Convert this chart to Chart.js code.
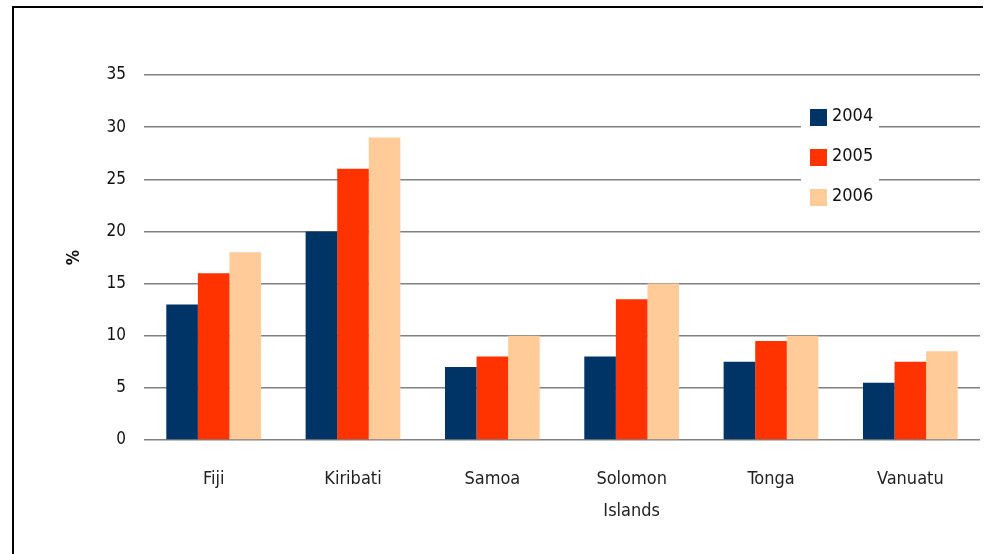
<!DOCTYPE html>
<html>
<head>
<meta charset="utf-8">
<script src="https://cdn.jsdelivr.net/npm/chart.js@4/dist/chart.umd.min.js"></script>
<style>
  html, body { margin: 0; padding: 0; background: #fff; }
  #wrap { width: 995px; height: 554px; position: relative; }
</style>
</head>
<body>
<div id="wrap"><canvas id="islandsChart"></canvas></div>
<script>
const countries = ["Fiji", "Kiribati", "Samoa", ["Solomon", "Islands"], "Tonga", "Vanuatu"];
const years = ["2004", "2005", "2006"];
const values2004 = [13, 20, 7, 8, 7.5, 5.5];
const values2005 = [16, 26, 8, 13.5, 9.5, 7.5];
const values2006 = [18, 29, 10, 15, 10, 8.5];
const yTicks = [0, 5, 10, 15, 20, 25, 30, 35];
const colors = ["#003366", "#ff3300", "#ffcc99"];

const FONT = "'Liberation Sans Narrow', 'Arial Narrow', 'DejaVu Sans Condensed', 'Liberation Sans', Arial, sans-serif";

// frame lines on the top and left edges
const framePlugin = {
  id: "frame",
  beforeDraw(chart) {
    const c = chart.ctx;
    c.save();
    c.strokeStyle = "#000";
    c.lineWidth = 2;
    c.beginPath();
    c.moveTo(983, 7);
    c.lineTo(13, 7);
    c.lineTo(13, 554);
    c.stroke();
    c.restore();
  }
};

// legend box sitting on top of the grid, upper right
const legendPlugin = {
  id: "boxLegend",
  afterDatasetsDraw(chart) {
    const c = chart.ctx;
    c.save();
    c.fillStyle = "#fff";
    c.fillRect(801, 95, 78, 120);
    chart.data.datasets.forEach((ds, i) => {
      const y = 117 + i * 40;
      c.fillStyle = ds.backgroundColor;
      c.fillRect(810, y - 8, 17, 17);
      c.fillStyle = "#111";
      c.font = "18px " + FONT;
      c.textBaseline = "middle";
      c.fillText(ds.label, 832, y - 1);
    });
    c.restore();
  }
};

new Chart(document.getElementById("islandsChart"), {
  type: "bar",
  data: {
    labels: countries,
    datasets: [
      { label: years[0], data: values2004, backgroundColor: colors[0] },
      { label: years[1], data: values2005, backgroundColor: colors[1] },
      { label: years[2], data: values2006, backgroundColor: colors[2] },
    ],
  },
  options: {
    responsive: true,
    maintainAspectRatio: false,
    animation: false,
    categoryPercentage: 0.68,
    barPercentage: 1,
    layout: { padding: { top: 75, right: 15, left: 14, bottom: 0 } },
    scales: {
      y: {
        min: 0,
        max: 35,
        afterBuildTicks(axis) {
          axis.ticks = yTicks.map((v) => ({ value: v }));
        },
        afterFit(axis) {
          axis.width = 130;
        },
        border: { display: false },
        grid: { color: "#808080", lineWidth: 1.5, drawTicks: false },
        ticks: {
          padding: 18,
          color: "#111",
          font: { family: FONT, size: 17 },
        },
        title: {
          display: true,
          text: "%",
          color: "#111",
          padding: { top: 50, bottom: 0 },
          font: { family: FONT, size: 17, weight: "bold" },
        },
      },
      x: {
        afterFit(axis) {
          axis.height = 114;
        },
        border: { display: false },
        grid: { display: false },
        ticks: {
          padding: 15,
          color: "#222",
          maxRotation: 0,
          font: { family: FONT, size: 18, lineHeight: 1.8 },
        },
      },
    },
    plugins: {
      legend: { display: false },
      tooltip: { enabled: false },
    },
  },
  plugins: [framePlugin, legendPlugin],
});
</script>
</body>
</html>
